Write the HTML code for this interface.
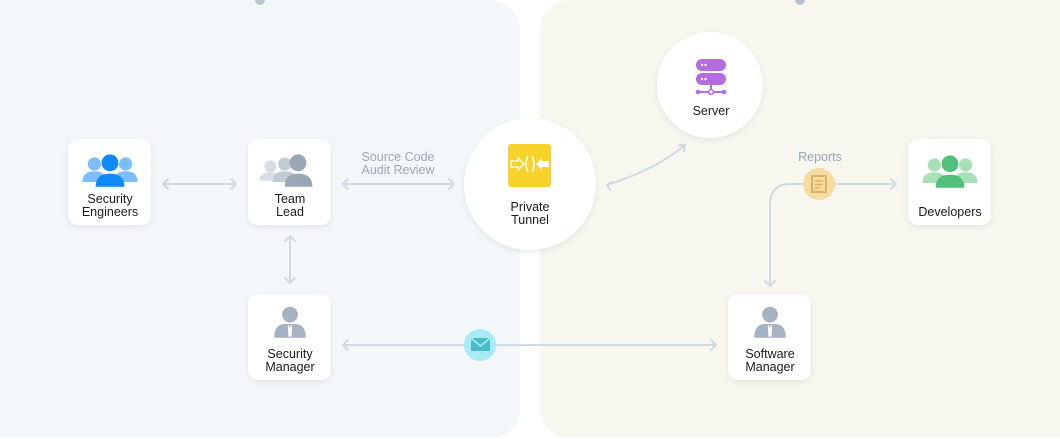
<!DOCTYPE html>
<html><head><meta charset="utf-8"><style>
body{margin:0;width:1060px;height:439px;overflow:hidden;background:#fff;font-family:"Liberation Sans",sans-serif}
svg{display:block}
text{font-family:"Liberation Sans",sans-serif;font-size:12.5px;fill:#1c1c1c;text-anchor:middle}
.l{fill:#9aa8b8}
</style></head><body>
<svg width="1060" height="439" viewBox="0 0 1060 439">
<defs>
<filter id="sh" x="-30%" y="-30%" width="160%" height="160%"><feDropShadow dx="0" dy="2" stdDeviation="3" flood-color="#000" flood-opacity="0.08"/></filter>
<g id="person"><circle cx="0" cy="-8" r="7.5" fill="#a5b2c2"/><path d="M-15 14 Q-15 2 -6 1 L6 1 Q15 2 15 14 Z" fill="#a5b2c2"/><path d="M-2 2 L2 2 L1.5 13 L-1.5 13 Z" fill="#fff"/><path d="M-1 2 L0 5 L1 2Z" fill="#a5b2c2"/></g>
<g id="grp"><circle cx="-13" cy="-5" r="5.5"/><path d="M-23 10 Q-23 1 -13 1 Q-3 1 -3 10Z"/><circle cx="13" cy="-5" r="5.5"/><path d="M3 10 Q3 1 13 1 Q23 1 23 10Z"/></g>
</defs>
<rect x="-40" y="0" width="560" height="438" rx="30" fill="#f3f7fa"/>
<rect x="540" y="0" width="560" height="438" rx="30" fill="#f7f6ef"/>
<circle cx="260" cy="0" r="5" fill="#b9c5d3"/><circle cx="800" cy="0" r="5" fill="#b9c5d3"/>
<g stroke="#d2d9e1" stroke-width="2" fill="none" stroke-linecap="round">
<path d="M163 184 H236 M168 179 L163 184 L168 189 M231 179 L236 184 L231 189"/>
<path d="M343 184 H454 M348 179 L343 184 L348 189 M449 179 L454 184 L449 189"/>
<path d="M290 236 V283 M285 241 L290 236 L295 241 M285 278 L290 283 L295 278"/>
<path d="M343 345 H716 M348 340 L343 345 L348 350 M711 340 L716 345 L711 350"/>
<path d="M607 185 Q655 170 685 145 M612 182 L607 185 L610 190 M679 145 L685 145 L684 151"/>
<path d="M830 184 H896 M891 179 L896 184 L891 189"/>
<path d="M805 184 H790 Q770 184 770 205 V286 M765 281 L770 286 L775 281"/>
</g>
<text x="398" y="161" class="l">Source Code</text>
<text x="398" y="174" class="l">Audit Review</text>
<text x="820" y="161" class="l">Reports</text>
<circle cx="819" cy="184" r="16" fill="#f6dca0"/>
<rect x="812" y="176" width="14" height="16" fill="none" stroke="#d9b463" stroke-width="2"/>
<path d="M815 181h8M815 184.5h8M815 188h5" stroke="#d9b463" stroke-width="1.5"/>
<circle cx="480" cy="345" r="16" fill="#a7ecf4"/>
<rect x="471" y="338" width="19" height="13" fill="#4bbdc9"/><path d="M471 338 L480.5 346 L490 338" stroke="#a7ecf4" stroke-width="1.5" fill="none"/>
<g filter="url(#sh)" fill="#fff">
<rect x="68" y="139" width="83" height="86" rx="10"/>
<rect x="248" y="139" width="83" height="86" rx="10"/>
<rect x="248" y="294" width="83" height="86" rx="10"/>
<rect x="728" y="294" width="83" height="86" rx="10"/>
<rect x="908" y="139" width="83" height="86" rx="10"/>
<circle cx="530" cy="184" r="66"/>
<circle cx="710" cy="85" r="53"/>
</g>
<g transform="translate(110,170) scale(1.2)">
<g fill="#7cbdfb"><use href="#grp"/></g>
<g fill="#1088f5"><circle cx="0" cy="-6" r="7"/><path d="M-12 14 Q-12 3 0 3 Q12 3 12 14Z"/></g></g>
<text x="110" y="203">Security</text><text x="110" y="216">Engineers</text>
<g transform="translate(286,170) scale(1.2)"><circle cx="-13" cy="-3" r="5" fill="#d7dde4"/><path d="M-22 9 Q-22 2 -13 2 Q-4 2 -4 9Z" fill="#d7dde4"/><circle cx="-1" cy="-5" r="5.5" fill="#c2cbd5"/><path d="M-11 10 Q-11 1 -1 1 Q9 1 9 10Z" fill="#c2cbd5"/><circle cx="10" cy="-6" r="7" fill="#98a6b6"/><path d="M-1 14 Q-1 3 10 3 Q22 3 22 14Z" fill="#98a6b6"/></g>
<text x="290" y="203">Team</text><text x="290" y="216">Lead</text>
<g transform="translate(290,323) scale(1.05)"><use href="#person"/></g>
<text x="290" y="358">Security</text><text x="290" y="371">Manager</text>
<g transform="translate(770,323) scale(1.05)"><use href="#person"/></g>
<text x="770" y="358">Software</text><text x="770" y="371">Manager</text>
<g transform="translate(950,171) scale(1.2)">
<g fill="#a8e0b8"><use href="#grp"/></g>
<g fill="#52c07a"><circle cx="0" cy="-6" r="7"/><path d="M-12 14 Q-12 3 0 3 Q12 3 12 14Z"/></g></g>
<text x="950" y="216">Developers</text>
<rect x="508" y="144" width="43" height="43" rx="3" fill="#f6d22a"/>
<path d="M511 161h7v-3l6 6-6 6v-3h-7z" fill="none" stroke="#fff" stroke-width="1.3"/>
<path d="M549 161h-7v-3l-6 6 6 6v-3h7z" fill="#fff"/>
<path d="M528 156 Q524 164 528 172 M532 156 Q536 164 532 172" stroke="#fff" stroke-width="1.5" fill="none"/>
<text x="530" y="211">Private</text><text x="530" y="224">Tunnel</text>
<rect x="696" y="59" width="30" height="12" rx="6" fill="#b56ce0"/>
<rect x="696" y="73" width="30" height="12" rx="6" fill="#b56ce0"/>
<circle cx="702" cy="65" r="1.2" fill="#fff"/><circle cx="705.5" cy="65" r="1.2" fill="#fff"/>
<circle cx="702" cy="79" r="1.2" fill="#fff"/><circle cx="705.5" cy="79" r="1.2" fill="#fff"/>
<path d="M711 85v7M698 92h26" stroke="#b56ce0" stroke-width="2"/>
<circle cx="698" cy="92" r="2.3" fill="#b56ce0"/><circle cx="724" cy="92" r="2.3" fill="#b56ce0"/><circle cx="711" cy="92" r="2.4" fill="#fff" stroke="#b56ce0" stroke-width="1.5"/>
<text x="711" y="115">Server</text>
</svg>
</body></html>
